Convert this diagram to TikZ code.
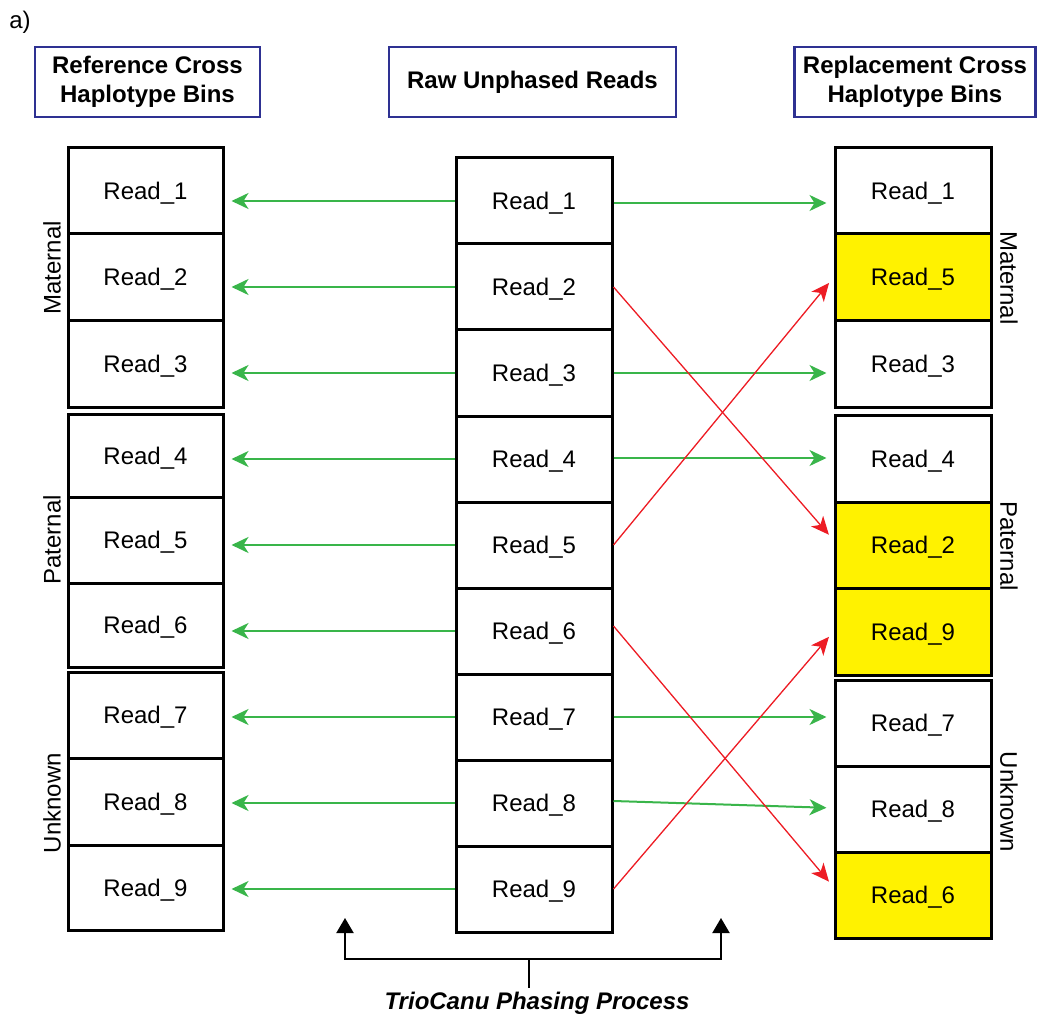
\documentclass[tikz,border=0pt]{standalone}
\usepackage{fontspec}
\setmainfont{Liberation Sans}
\usetikzlibrary{arrows.meta}
\definecolor{gr}{HTML}{39B54A}
\definecolor{rd}{HTML}{ED1C24}
\definecolor{yl}{HTML}{FFF200}
\definecolor{nv}{HTML}{2E3192}
\begin{document}
\begin{tikzpicture}[x=1pt,y=-1pt,
  cell/.style={draw, line width=3pt, minimum width=155pt, inner sep=0pt, text height=17pt, text depth=0pt, font=\fontsize{24}{28}\selectfont},
  hit/.style={cell, fill=yl},
  head/.style={draw=nv, line width=2.5pt, inner sep=0pt, align=center, font=\bfseries\fontsize{24}{29}\selectfont},
  side/.style={font=\fontsize{24}{28}\selectfont, inner sep=0pt},
  garrow/.style={draw=gr, line width=2pt, -{Stealth[length=17pt,width=16pt,inset=5pt]}, shorten >=7pt},
  rarrow/.style={draw=rd, fill=rd, line width=1.3pt, -{Stealth[length=18pt,width=16pt,inset=5pt]}, shorten >=7pt},
  barrow/.style={draw=black, line width=2pt, -{Triangle[length=15pt,width=17pt]}}
]
\useasboundingbox (0,0) rectangle (1037,1019);

\node[side] (lab) at (20,22) {a)};

% headers
\node[head, minimum width=225pt, minimum height=70pt] (hL) at (147.5,82) {Reference Cross\\Haplotype Bins};
\node[head, minimum width=287pt, minimum height=70pt] (hM) at (532.5,82) {Raw Unphased Reads};
\node[head, minimum width=241pt, minimum height=70pt] (hR) at (915,82) {Replacement Cross\\Haplotype Bins};

% left column
\node[cell, minimum height=86pt] (L1) at (145.5,191) {Read\_1};
\node[cell, minimum height=87pt] (L2) at (145.5,277.5) {Read\_2};
\node[cell, minimum height=86pt] (L3) at (145.5,364) {Read\_3};
\node[cell, minimum height=83pt] (L4) at (145.5,455.5) {Read\_4};
\node[cell, minimum height=86pt] (L5) at (145.5,540) {Read\_5};
\node[cell, minimum height=84pt] (L6) at (145.5,625) {Read\_6};
\node[cell, minimum height=86pt] (L7) at (145.5,715) {Read\_7};
\node[cell, minimum height=87pt] (L8) at (145.5,801.5) {Read\_8};
\node[cell, minimum height=85pt] (L9) at (145.5,887.5) {Read\_9};

% middle column
\foreach \k/\y in {1/201,2/287,3/373,4/459,5/545,6/631,7/717,8/803,9/889}
  \node[cell, minimum width=156pt, minimum height=86pt] (M\k) at (534,\y) {Read\_\k};

% right column
\node[cell, minimum width=156pt, minimum height=86pt] (R1) at (913,191) {Read\_1};
\node[hit, minimum width=156pt, minimum height=87pt] (R2) at (913,277.5) {Read\_5};
\node[cell, minimum width=156pt, minimum height=86pt] (R3) at (913,364) {Read\_3};
\node[cell, minimum width=156pt, minimum height=87pt] (R4) at (913,458.5) {Read\_4};
\node[hit, minimum width=156pt, minimum height=86pt] (R5) at (913,545) {Read\_2};
\node[hit, minimum width=156pt, minimum height=87pt] (R6) at (913,631.5) {Read\_9};
\node[cell, minimum width=156pt, minimum height=86pt] (R7) at (913,723) {Read\_7};
\node[cell, minimum width=156pt, minimum height=86pt] (R8) at (913,809) {Read\_8};
\node[hit, minimum width=156pt, minimum height=86pt] (R9) at (913,895) {Read\_6};

% side labels
\node[side, rotate=90] (sL1) at (52,268) {Maternal};
\node[side, rotate=90] (sL2) at (52,540) {Paternal};
\node[side, rotate=90] (sL3) at (52,803) {Unknown};
\node[side, rotate=-90] (sR1) at (1009,278) {Maternal};
\node[side, rotate=-90] (sR2) at (1009,546) {Paternal};
\node[side, rotate=-90] (sR3) at (1009,802) {Unknown};

% left arrows
\foreach \k in {1,...,9}
  \draw[garrow] (M\k.west) -- (M\k.west -| L\k.east);

% right green arrows
\draw[garrow] ([yshift=-2pt]M1.east) -- ([yshift=-2pt]M1.east -| R1.west);
\draw[garrow] (M3.east) -- (M3.east -| R3.west);
\draw[garrow] ([yshift=1pt]M4.east) -- ([yshift=1pt]M4.east -| R4.west);
\draw[garrow] (M7.east) -- (M7.east -| R7.west);
\draw[garrow] ([yshift=2pt]M8.east) -- ([yshift=1pt]R8.west);

% red arrows
\draw[rarrow] (M2.east) -- ([yshift=5pt]R5.west);
\draw[rarrow] (M5.east) -- (R2.west);
\draw[rarrow] ([yshift=5pt]M6.east) -- ([yshift=8pt]R9.west);
\draw[rarrow] (M9.east) -- (R6.west);

% bottom bracket
\node[font=\bfseries\itshape\fontsize{24}{28}\selectfont, inner sep=0pt] (proc) at (537,1003) {TrioCanu Phasing Process};
\coordinate (hub) at (529,959);
\coordinate (tipL) at (345,918);
\coordinate (tipR) at (721,918);
\draw[line width=2pt] ([yshift=4pt]proc.north -| hub) -- (hub);
\draw[barrow] (hub) -| (tipL);
\draw[barrow] (hub) -| (tipR);
\end{tikzpicture}
\end{document}
